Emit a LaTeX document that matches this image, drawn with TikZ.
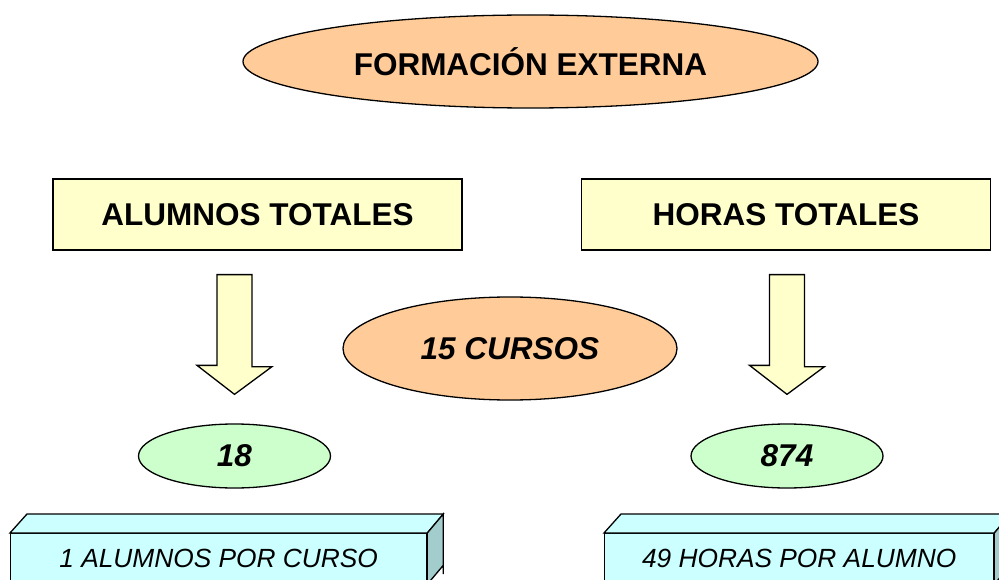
\documentclass[tikz,border=0pt]{standalone}
\usepackage{fontspec}
\setmainfont{Liberation Sans}
\usetikzlibrary{shapes.geometric,calc}
\definecolor{OvalClr}{rgb}{1,0.8,0.6}
\definecolor{BoxClr}{rgb}{1,1,0.8}
\definecolor{NumClr}{rgb}{0.8,1,0.8}
\definecolor{SlabClr}{rgb}{0.8,1,1}
\definecolor{SideClr}{rgb}{0.64,0.8,0.8}

\begin{document}
\begin{tikzpicture}[x=1pt,y=-1pt,line width=1.3pt,
  oval/.style={ellipse,draw,fill=OvalClr,inner sep=0pt,
    font=\bfseries\fontsize{31.5}{36}\selectfont},
  total/.style={rectangle,draw,fill=BoxClr,minimum width=409,minimum height=71,
    inner sep=0pt,font=\bfseries\fontsize{31.5}{36}\selectfont},
  num/.style={ellipse,draw,fill=NumClr,minimum width=192,minimum height=64,
    inner sep=0pt,font=\bfseries\itshape\fontsize{31.5}{36}\selectfont},
  slab/.style={rectangle,draw,fill=SlabClr,minimum height=50,anchor=north west,
    inner sep=0pt,font=\itshape\fontsize{26.3}{30}\selectfont},
  fat/.style={draw,fill=BoxClr,line join=miter}]
\useasboundingbox (0,0) rectangle (999,580);
\clip (0,0) rectangle (999,580);

\node[oval,minimum width=575,minimum height=93] (forma) at (530.5,61.5) {FORMACIÓN EXTERNA};

\node[total] (alum) at (257.5,214.5) {ALUMNOS TOTALES};
\node[total] (horas) at (786,214.5) {HORAS TOTALES};

\node[oval,minimum width=334,minimum height=103,font=\bfseries\itshape\fontsize{31.5}{36}\selectfont] (cursos) at (510,348.5) {15 CURSOS};

\node[num] (n18) at (234.5,456) {18};
\node[num] (n874) at (787,456) {874};

% flechas gruesas
\foreach \a/\b in {alum/n18,horas/n874}{
  \draw[fat] ($(\b.north |- \a.south)+(-17.5,24)$) -- ++(35,0) -- ++(0,92) -- ++(20,0)
    -- ($(\b.north)+(0,-29)$) -- ($(\b.north)+(-37.5,-58)$) -- ++(20,0) -- cycle;
}

% bloques inferiores
\node[slab,minimum width=416] (pcurso) at (10,533) {1 ALUMNOS POR CURSO};
\node[slab,minimum width=389] (palumno) at (604,533) {49 HORAS POR ALUMNO};

\foreach \s in {pcurso,palumno}{
  \draw[fill=SlabClr,line join=miter] (\s.north west) -- ++(17,-19) -- ($(\s.north east)+(16,-19)$) -- (\s.north east) -- cycle;
  \draw[fill=SideClr,line join=miter] (\s.north east) -- ++(16,-19) -- ++(0,60) -- ($(\s.south east)+(16,-19)$) -- (\s.south east) -- cycle;
}

\end{tikzpicture}
\end{document}
